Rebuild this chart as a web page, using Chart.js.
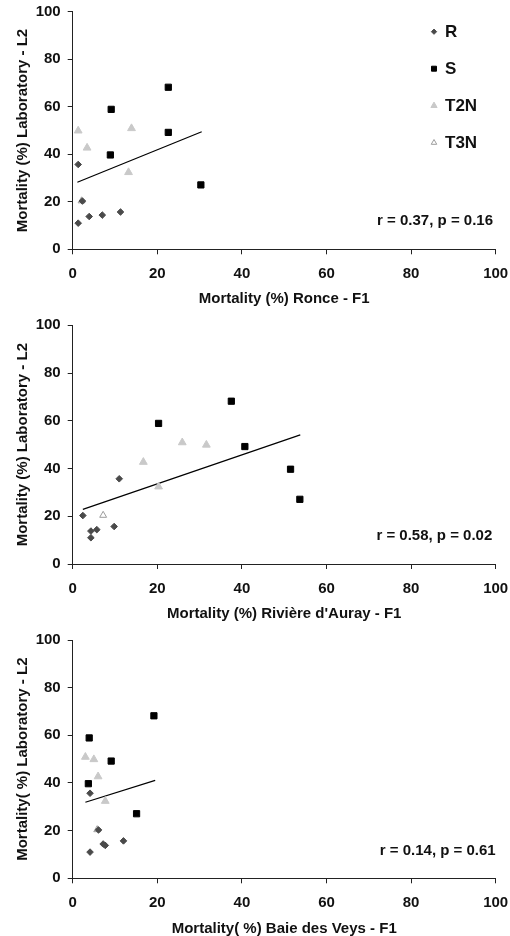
<!DOCTYPE html>
<html>
<head>
<meta charset="utf-8">
<script src="https://cdn.jsdelivr.net/npm/chart.js@4.4.1/dist/chart.umd.min.js"></script>
<style>
  html, body { margin: 0; padding: 0; background: #fff; }
  body { width: 510px; height: 936px; position: relative; overflow: hidden; }
  .panel { position: absolute; left: 0; width: 510px; }
</style>
</head>
<body>
<div class="panel" style="top:0px;height:310px"><canvas id="ronce" width="510" height="310"></canvas></div>
<div class="panel" style="top:310px;height:315px"><canvas id="auray" width="510" height="315"></canvas></div>
<div class="panel" style="top:625px;height:311px"><canvas id="veys" width="510" height="311"></canvas></div>
<script>
// Laboratory mortality (L2), same for every panel
const labR = [35.7, 20.3, 13.8, 14.4, 15.7, 11.0];
const labS = [58.9, 68.2, 49.2, 39.7, 27.1];
const labT2N = [50.9, 49.9, 42.7, 32.4];
const labT3N = [20.4];

// Field mortality (F1) per site
const ronceR = [1.3, 2.3, 3.9, 7.0, 11.3, 1.3];
const ronceS = [9.1, 22.6, 22.6, 8.9, 30.3];
const ronceT2N = [13.9, 1.3, 3.4, 13.2];
const ronceT3N = [2.1];

const aurayR = [11.0, 2.4, 4.3, 5.7, 9.8, 4.3];
const aurayS = [20.3, 37.5, 40.7, 51.5, 53.7];
const aurayT2N = [25.9, 31.6, 16.7, 20.3];
const aurayT3N = [7.2];

const veysR = [4.1, 6.1, 7.7, 7.2, 12.0, 4.1];
const veysS = [3.9, 19.2, 9.1, 3.7, 15.1];
const veysT2N = [3.0, 5.0, 6.0, 7.7];
const veysT3N = [5.8];

// regression line end points [x, y]
const ronceTrend = [[1.1, 28.2], [30.5, 49.5]];
const aurayTrend = [[2.4, 22.9], [53.8, 54.1]];
const veysTrend = [[3.0, 31.9], [19.5, 41.1]];

const axisTicks = [0, 20, 40, 60, 80, 100];
const groups = ['R', 'S', 'T2N', 'T3N'];
const stats = ['r = 0.37, p = 0.16', 'r = 0.58, p = 0.02', 'r = 0.14, p = 0.61'];

const FONT = '"Liberation Sans", Arial, sans-serif';
const AXIS = '#222';

const styles = {
  R: { pointStyle: 'rectRot', pointRadius: 3.3, backgroundColor: '#4a4a4a', borderColor: '#4a4a4a', borderWidth: 1 },
  S: { pointStyle: 'rect', pointRadius: 4.4, backgroundColor: '#000', borderColor: '#000', borderWidth: 1 },
  T2N: { pointStyle: 'triangle', pointRadius: 4.5, backgroundColor: '#c9c9c9', borderColor: '#c9c9c9', borderWidth: 1 },
  T3N: { pointStyle: 'triangle', pointRadius: 4.0, backgroundColor: '#fff', borderColor: '#9c9c9c', borderWidth: 1 }
};

function pts(xs, ys) {
  return xs.map((x, i) => ({ x: x, y: ys[i] }));
}

// stats text + legend drawn on top of the plot
const notes = {
  id: 'notes',
  afterDatasetsDraw(chart, args, opts) {
    const { ctx, chartArea } = chart;
    ctx.save();
    ctx.fillStyle = '#111';
    ctx.font = 'bold 15px ' + FONT;
    ctx.textAlign = 'right';
    ctx.textBaseline = 'middle';
    ctx.fillText(opts.text, chartArea.right + opts.dx, chartArea.bottom - opts.dy);
    if (opts.legend) {
      ctx.font = 'bold 17px ' + FONT;
      ctx.textAlign = 'left';
      groups.forEach((g, i) => {
        const y = 31.7 + i * 37;
        const st = styles[g];
        ctx.fillStyle = st.backgroundColor;
        ctx.strokeStyle = st.borderColor;
        ctx.lineWidth = 1;
        Chart.helpers.drawPoint(ctx, {
          pointStyle: st.pointStyle,
          radius: st.pointRadius * 0.8,
          rotation: 0,
          borderWidth: 1
        }, 434, y);
        ctx.fillStyle = '#111';
        ctx.fillText(g, 445, y + 1);
      });
    }
    ctx.restore();
  }
};

function makeChart(id, xs, trend, xTitle, yTitle, cfg) {
  const datasets = groups.map((g, i) => Object.assign({
    label: g,
    data: pts(xs[i], [labR, labS, labT2N, labT3N][i]),
    order: 2
  }, styles[g]));
  datasets.push({
    type: 'line',
    label: 'trend',
    data: trend.map(p => ({ x: p[0], y: p[1] })),
    borderColor: '#000',
    borderWidth: 1.2,
    pointRadius: 0,
    fill: false,
    order: 3
  });
  const H = cfg.height;
  return new Chart(document.getElementById(id), {
    type: 'scatter',
    data: { datasets },
    options: {
      responsive: false,
      animation: false,
      layout: { padding: { left: 0, right: 510 - 495.7, top: cfg.top, bottom: 0 } },
      plugins: {
        legend: { display: false },
        tooltip: { enabled: false },
        notes: { text: cfg.stat, dx: cfg.dx, dy: cfg.dy, legend: cfg.legend }
      },
      scales: {
        x: {
          type: 'linear',
          min: 0, max: 100,
          afterBuildTicks: s => { s.ticks = axisTicks.map(v => ({ value: v })); },
          afterFit: s => { s.height = H - cfg.bottom; s.paddingLeft = 0; s.paddingRight = 0; },
          ticks: { color: '#111', padding: 11, font: { family: FONT, size: 15, weight: 'bold' } },
          grid: { drawOnChartArea: false, drawTicks: true, tickLength: 5, color: AXIS, lineWidth: 1 },
          border: { display: true, color: AXIS, width: 1 },
          title: { display: true, text: xTitle, color: '#111', padding: { top: 0, bottom: cfg.xTitlePad },
                   font: { family: FONT, size: 15, weight: 'bold', lineHeight: 1 } }
        },
        y: {
          type: 'linear',
          min: 0, max: 100,
          afterBuildTicks: s => { s.ticks = axisTicks.map(v => ({ value: v })); },
          afterFit: s => { s.width = 72.7; s.paddingTop = 0; s.paddingBottom = 0; },
          ticks: { color: '#111', padding: 7, font: { family: FONT, size: 15, weight: 'bold' } },
          grid: { drawOnChartArea: false, drawTicks: true, tickLength: 5, color: AXIS, lineWidth: 1 },
          border: { display: true, color: AXIS, width: 1 },
          title: { display: true, text: yTitle, color: '#111', padding: { top: 14, bottom: 0 },
                   font: { family: FONT, size: 15, weight: 'bold' } }
        }
      }
    },
    plugins: [notes]
  });
}

makeChart('ronce', [ronceR, ronceS, ronceT2N, ronceT3N], ronceTrend,
  'Mortality (%) Ronce - F1', 'Mortality (%) Laboratory - L2',
  { height: 310, top: 11.7, bottom: 249.3, xTitlePad: 3.7, stat: stats[0], dx: -2.7, dy: 28, legend: true });

makeChart('auray', [aurayR, aurayS, aurayT2N, aurayT3N], aurayTrend,
  "Mortality (%) Rivière d'Auray - F1", 'Mortality (%) Laboratory - L2',
  { height: 315, top: 15.3, bottom: 254, xTitlePad: 3.7, stat: stats[1], dx: -3.4, dy: 28, legend: false });

makeChart('veys', [veysR, veysS, veysT2N, veysT3N], veysTrend,
  'Mortality( %) Baie des Veys - F1', 'Mortality( %) Laboratory - L2',
  { height: 311, top: 15, bottom: 253.3, xTitlePad: 0, stat: stats[2], dx: 0, dy: 27.6, legend: false });
</script>
</body>
</html>
